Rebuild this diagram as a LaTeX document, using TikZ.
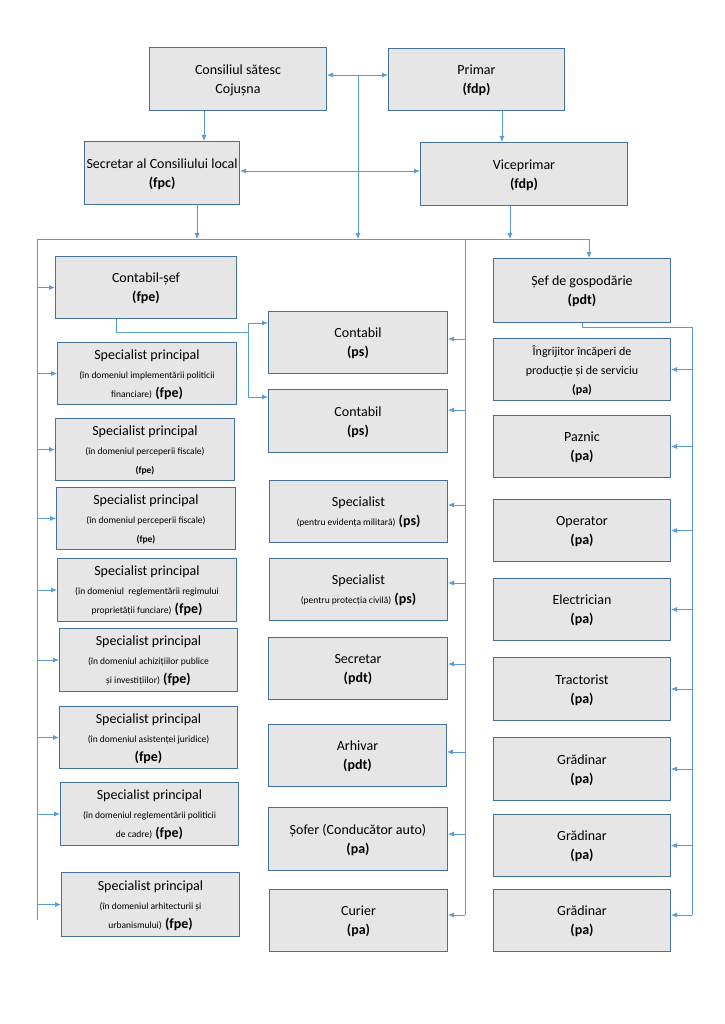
\documentclass[tikz,border=0pt]{standalone}
\usepackage{fontspec}
\setmainfont{Carlito}
\usetikzlibrary{arrows.meta}
\definecolor{bfill}{HTML}{E6E6E6}
\definecolor{bdraw}{HTML}{41719C}
\definecolor{lnk}{HTML}{5B9BD5}
\begin{document}
\begin{tikzpicture}[x=1pt,y=-1pt,
 box/.style={draw=bdraw,line width=1pt,fill=bfill,anchor=north west,inner sep=2pt,
   align=center,font=\fontsize{14}{19}\selectfont,text depth=0pt},
 ln/.style={draw=lnk,line width=0.8pt},
 ar/.style={ln,-{Latex[length=6pt,width=5pt]}},
 sm/.style={}]
\useasboundingbox (0,0) rectangle (724,1024);
\newcommand{\bx}[6]{\node[box,minimum width=#4pt,minimum height=#5pt] (#1) at (#2,#3) {#6};}
\newcommand{\sml}[1]{{\fontsize{9.5}{16}\selectfont #1}}
% top
\bx{cons}{149}{47}{177}{63}{Consiliul sătesc\\Cojușna}
\bx{prim}{388}{48}{176}{62}{Primar\\\textbf{(fdp)}}
\bx{secr}{84}{141}{146}{63}{Secretar al Consiliului local\\\textbf{(fpc)}}
\bx{vice}{420}{142}{207}{63}{Viceprimar\\\textbf{(fdp)}}
% left
\bx{cs}{55}{256}{181}{62}{Contabil-șef\\\textbf{(fpe)}}
\bx{sp1}{57}{342}{179}{62}{Specialist principal\\\sml{(în domeniul implementării politicii}\\\sml{financiare)} \textbf{(fpe)}}
\bx{sp2}{55}{418}{179}{62}{Specialist principal\\\sml{(în domeniul perceperii fiscale)}\\\textbf{\sml{(fpe)}}}
\bx{sp3}{56}{487}{179}{62}{Specialist principal\\\sml{(în domeniul perceperii fiscale)}\\\textbf{\sml{(fpe)}}}
\bx{sp4}{57}{558}{179}{63}{Specialist principal\\\sml{(în domeniul\ \ reglementării regimului}\\\sml{proprietății funciare)} \textbf{(fpe)}}
\bx{sp5}{59}{628}{178}{63}{Specialist principal\\\sml{(în domeniul achizițiilor publice}\\\sml{și investițiilor)} \textbf{(fpe)}}
\bx{sp6}{59}{706}{178}{62}{Specialist principal\\\sml{(în domeniul asistenței juridice)}\\\textbf{(fpe)}}
\bx{sp7}{60}{782}{178}{63}{Specialist principal\\\sml{(în domeniul reglementării politicii}\\\sml{de cadre)} \textbf{(fpe)}}
\bx{sp8}{61}{872}{178}{64}{Specialist principal\\\sml{(în domeniul arhitecturii și}\\\sml{urbanismului)} \textbf{(fpe)}}
% middle
\bx{c1}{268}{311}{179}{62}{Contabil\\\textbf{(ps)}}
\bx{c2}{268}{389}{179}{63}{Contabil\\\textbf{(ps)}}
\bx{s1}{269}{480}{178}{62}{Specialist\\\sml{(pentru evidența militară)} \textbf{(ps)}}
\bx{s2}{269}{558}{178}{62}{Specialist\\\sml{(pentru protecția civilă)} \textbf{(ps)}}
\bx{sec}{268}{637}{179}{62}{Secretar\\\textbf{(pdt)}}
\bx{arh}{268}{724}{178}{62}{Arhivar\\\textbf{(pdt)}}
\bx{sof}{268}{807}{179}{63}{Șofer (Conducător auto)\\\textbf{(pa)}}
\bx{cur}{269}{889}{178}{62}{Curier\\\textbf{(pa)}}
% right
\bx{sef}{493}{258}{177}{64}{Șef de gospodărie\\\textbf{(pdt)}}
\bx{ing}{493}{338}{177}{62}{{\fontsize{12}{16}\selectfont Îngrijitor încăperi de}\\{\fontsize{12}{16}\selectfont producție și de serviciu}\\{\fontsize{12}{16}\selectfont\textbf{(pa)}}}
\bx{paz}{493}{415}{177}{62}{Paznic\\\textbf{(pa)}}
\bx{ope}{493}{499}{177}{62}{Operator\\\textbf{(pa)}}
\bx{ele}{493}{578}{177}{62}{Electrician\\\textbf{(pa)}}
\bx{tra}{493}{657}{177}{63}{Tractorist\\\textbf{(pa)}}
\bx{g1}{493}{737}{177}{63}{Grădinar\\\textbf{(pa)}}
\bx{g2}{493}{814}{177}{62}{Grădinar\\\textbf{(pa)}}
\bx{g3}{493}{889}{177}{62}{Grădinar\\\textbf{(pa)}}
% top links
\draw[ar] (cons.south -| 204,0) -- (secr.north -| 204,0);
\draw[ar] (prim.south -| 502,0) -- (vice.north -| 502,0);
\draw[ar,{Latex[length=6pt,width=5pt]}-{Latex[length=6pt,width=5pt]}] (cons.east |- 0,75) -- (prim.west |- 0,75);
\draw[ar,{Latex[length=6pt,width=5pt]}-{Latex[length=6pt,width=5pt]}] (secr.east |- 0,171) -- (vice.west |- 0,171);
\coordinate (busL) at (37,239);
\coordinate (busR) at (589,239);
\coordinate (midT) at (358,75);
\draw[ar] (midT) -- (358,239);
\draw[ar] (secr.south -| 197,0) -- (197,239);
\draw[ar] (vice.south -| 510,0) -- (510,239);
\draw[ln] (busL) -- (busR);
\draw[ar] (busR) -- (sef.north -| busR);
% left spine
\draw[ln] (busL) -- (37,920);
\foreach \n in {cs,sp1,sp2,sp3,sp4,sp5,sp6,sp7,sp8}{\draw[ar] (\n.west -| 37,0) -- (\n.west);}
% middle spine
\coordinate (mT) at (465,239);
\draw[ln] (mT) -- (465,915);
\foreach \n/\y in {c1/339,c2/410,s1/505,s2/583,sec/664,arh/752,sof/834,cur/915}{\draw[ar] (465,\y) -- (\n.east |- 0,\y);}
% contabil-sef to contabili
\coordinate (k) at (248,332);
\draw[ln] (cs.south -| 116,0) -- (116,332) -- (k);
\draw[ln] (248,323) -- (248,397);
\draw[ar] (248,323) -- (c1.west |- 0,323);
\draw[ar] (248,397) -- (c2.west |- 0,397);
% sef to right boxes
\coordinate (rT) at (692,327);
\draw[ln] (sef.south -| 582,0) -- (582,327) -- (rT) -- (692,915);
\foreach \n in {ing,paz,ope,ele,tra,g1,g2}{\draw[ar] (\n.east -| 692,0) -- (\n.east);}
\draw[ar] (692,915) -- (g3.east |- 0,915);
\end{tikzpicture}
\end{document}
